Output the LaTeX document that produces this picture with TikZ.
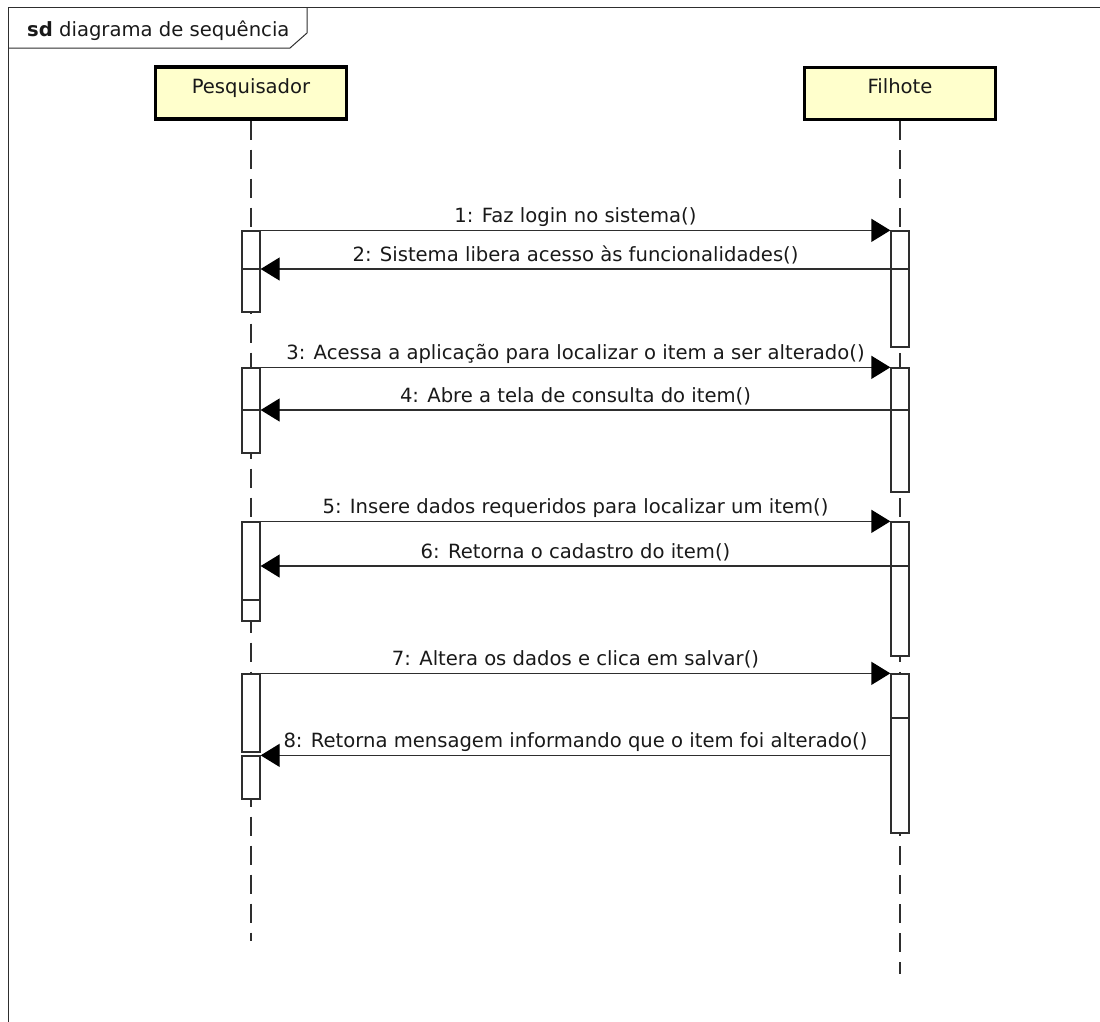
\documentclass[tikz,border=0pt]{standalone}
\usepackage{fontspec}
\setmainfont{DejaVu Sans}
\usetikzlibrary{arrows.meta}
\definecolor{actorfill}{HTML}{FFFFCC}
\definecolor{ink}{HTML}{2E2E2E}
\begin{document}
\begin{tikzpicture}[x=1pt,y=-1pt,
  every node/.style={font=\fontsize{19.6}{23}\selectfont, text=black!90},
  actor/.style={draw=black, line width=3.2pt, fill=actorfill,
    minimum width=191pt, minimum height=52pt, inner sep=0pt,
    text height=12pt, text depth=12pt},
  lifeline/.style={draw=ink, line width=1.2pt, dash pattern=on 19pt off 10pt},
  act/.style={draw=ink, fill=white, line width=1.3pt, minimum width=18pt, inner sep=0pt},
  msg/.style={draw=ink, line width=1.3pt, -{Triangle[length=19pt,width=23pt,color=black]}},
  lab/.style={midway, anchor=base, yshift=8pt, inner sep=0pt},
  divider/.style={draw=ink, line width=1.3pt},
  frame/.style={draw=ink, line width=1pt}
]
\useasboundingbox (0,0) rectangle (1100,1021);

% enclosing frame and its name tab
\draw[frame] (8,1040) -- (8,7) -- (1120,7);
\draw[frame] (8,48) -- (290,48) -- (307,33) -- (307,7);
\node[anchor=base west, inner sep=0pt] (sdname) at (27,36) {\textbf{sd} diagrama de sequência};

% participants
\node[actor] (pesq) at (251,93) {Pesquisador};
\node[actor] (filh) at (900,93.5) {Filhote};

% ends of the lifelines
\coordinate (pesqend) at (251,941);
\coordinate (filhend) at (900,974);
\draw[lifeline] (pesq.south) -- (pesqend);
\draw[lifeline] (filh.south) -- (filhend);

% activation bars of Pesquisador
\node[act, minimum height=81pt] (a1) at (251,271.5) {};
\node[act, minimum height=85pt] (a2) at (251,410.5) {};
\node[act, minimum height=99pt] (a3) at (251,571.5) {};
\node[act, minimum height=78pt] (a4) at (251,713) {};
\node[act, minimum height=43pt] (a5) at (251,777.5) {};

% activation bars of Filhote
\node[act, minimum height=116pt] (f1) at (900,289) {};
\node[act, minimum height=124pt] (f2) at (900,430) {};
\node[act, minimum height=134pt] (f3) at (900,589) {};
\node[act, minimum height=159pt] (f4) at (900,753.5) {};

% heights of the reply messages and bar dividers
\coordinate (m2) at (0,269);
\coordinate (m4) at (0,410);
\coordinate (m6) at (0,566);
\coordinate (d3) at (0,600);
\coordinate (d7) at (0,718);

% dividers inside the bars
\draw[divider] (a1.west |- m2) -- (a1.east |- m2);
\draw[divider] (f1.west |- m2) -- (f1.east |- m2);
\draw[divider] (a2.west |- m4) -- (a2.east |- m4);
\draw[divider] (f2.west |- m4) -- (f2.east |- m4);
\draw[divider] (a3.west |- d3) -- (a3.east |- d3);
\draw[divider] (f3.west |- m6) -- (f3.east |- m6);
\draw[divider] (f4.west |- d7) -- (f4.east |- d7);

% messages
\draw[msg] (a1.north east) -- node[lab] {1: Faz login no sistema()} (f1.north west);
\draw[msg] (f1.west |- m2) -- node[lab] {2: Sistema libera acesso às funcionalidades()} (a1.east |- m2);
\draw[msg] (a2.north east) -- node[lab] {3: Acessa a aplicação para localizar o item a ser alterado()} (f2.north west);
\draw[msg] (f2.west |- m4) -- node[lab] {4: Abre a tela de consulta do item()} (a2.east |- m4);
\draw[msg] (a3.north east) -- node[lab] {5: Insere dados requeridos para localizar um item()} (f3.north west);
\draw[msg] (f3.west |- m6) -- node[lab] {6: Retorna o cadastro do item()} (a3.east |- m6);
\draw[msg] (a4.north east) -- node[lab] {7: Altera os dados e clica em salvar()} (f4.north west);
\draw[msg] (f4.west |- a5.north) -- node[lab] {8: Retorna mensagem informando que o item foi alterado()} (a5.north east);
\end{tikzpicture}
\end{document}
